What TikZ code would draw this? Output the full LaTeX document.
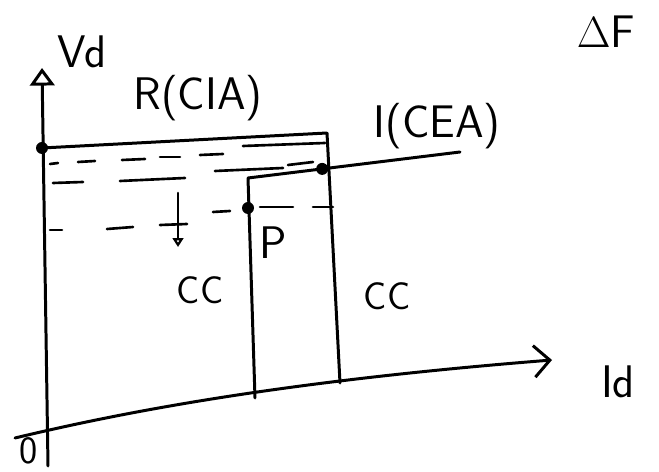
\documentclass[tikz,border=0pt]{standalone}
\usepackage{tikz}
\usetikzlibrary{arrows.meta}
\tikzset{pen/.style={draw=black,line width=1.7pt},
 dashpen/.style={draw=black,line width=1.5pt},
 dot/.style={circle,fill=black,inner sep=0pt,minimum size=0.24cm},
 lbl/.style={font=\sffamily\fontsize{26}{28}\selectfont},
 small/.style={font=\sffamily\fontsize{22}{24}\selectfont},
 every picture/.style={line join=round,line cap=round}}

\begin{document}
\begin{tikzpicture}[x=0.02cm,y=-0.02cm]
\useasboundingbox[fill=white] (0,0) rectangle (659,472);
% points of the plot
\coordinate (ytop) at (42,68);
\coordinate (ybot) at (48,466);
\coordinate (xbeg) at (15,438);
\coordinate (xend) at (552,360);
\coordinate (rl) at (42,148);
\coordinate (rr) at (327,133);
\coordinate (rb) at (340,383);
\coordinate (il) at (248,178);
\coordinate (ib) at (255,398);
\coordinate (ie) at (460,152);
% axes
\draw[pen,-{Triangle[open,length=10pt,width=14pt]}] (ybot) -- (ytop);
\draw[pen,-{Straight Barb[length=9pt,width=18pt]}] (xbeg) .. controls (140,408) and (300,380) .. (xend);
% R line and I line
\draw[pen] (rl) -- (rr) -- (rb);
\draw[pen] (ib) -- (il) -- node[pos=0.35,dot] (q) {} (ie);
\node[dot] (a) at (rl) {};
\node[dot] (p) at (248,208) {};
% dashes
\foreach \xa/\ya/\xb/\yb in {243/146/325/143, 50/164/58/163, 78/162/95/161,
 122/160/145/159, 160/157/180/157, 200/155/223/154, 215/171/283/168,
 288/165/313/162, 53/183/83/182, 120/181/185/178, 50/230/62/230,
 107/229/133/227, 160/225/187/224, 213/212/230/211, 260/207/293/207,
 313/207/333/207}
  \draw[dashpen] (\xa,\ya) -- (\xb,\yb);
\draw[dashpen,-{Triangle[open,length=5pt,width=6pt]}] (178,193) -- (178,247);
% labels
\node[lbl] (vd) at (82,52) {Vd};
\node[lbl] (rcia) at (198,98) {R(CIA)};
\node[lbl] (icea) at (437,126) {I(CEA)};
\node[lbl] (pbar) at (273,243) {P};
\node[small] (cc1) at (200,290) {CC};
\node[small] (cc2) at (387,296) {CC};
\node[lbl] (id) at (618,382) {Id};
\node[small] (zero) at (29,451) {0};
\node[lbl] (df) at (606,32) {$\Delta$F};
\end{tikzpicture}
\end{document}
